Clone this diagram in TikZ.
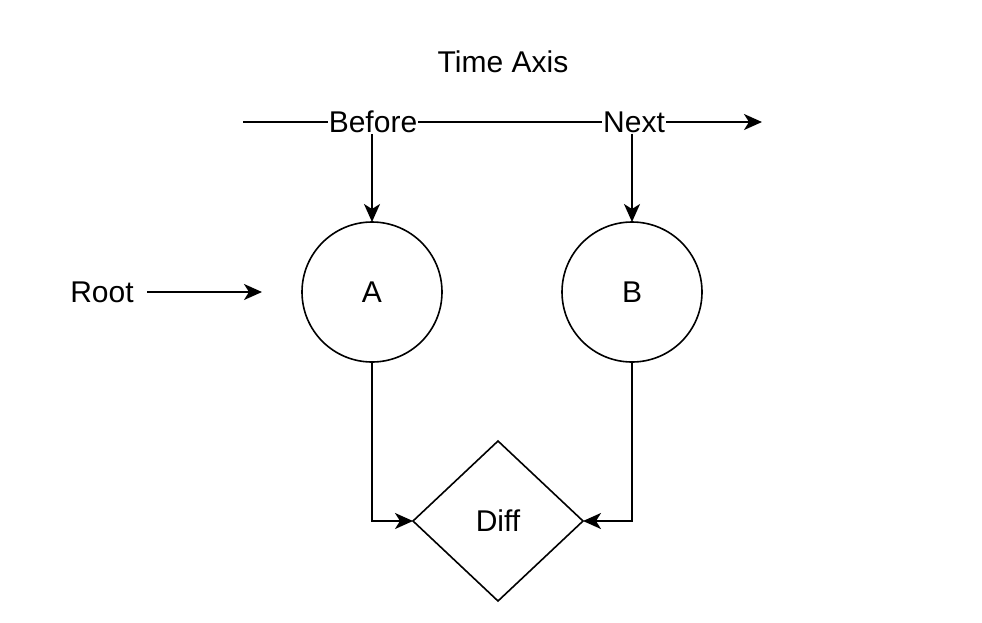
\documentclass[tikz,border=0pt]{standalone}
\usepackage{fontspec}
\setmainfont{Liberation Sans}
\usetikzlibrary{arrows.meta,shapes.geometric}
\tikzset{
  every node/.style={font=\fontsize{30}{36}\selectfont},
  conn/.style={line width=2pt},
  arr/.style={conn,-{Stealth[length=18pt,width=16pt,inset=5pt]}}
}
\begin{document}
\begin{tikzpicture}[x=1pt,y=-1pt]
      \useasboundingbox (0,0) rectangle (982,622);
      \node (title) at (503,62) {Time Axis};
      \coordinate (axstart) at (243,122);
      \coordinate (axend) at (762,122);
      \node (before) at (373,122) [inner sep=1pt] {Before};
      \node (next) at (634,122) [inner sep=1pt] {Next};
      \draw [conn](axstart)--(before);
      \draw [conn](before)--(next);
      \draw [arr](next)--(axend);
      \node (root) at (102,292) {Root};
      \coordinate (rootend) at (262,292);
      \draw [arr](root.east)++(10,0)--(rootend);
      \node (a) at (372,292) [circle,draw,line width=1.6pt,minimum size=140pt,inner sep=0pt,outer sep=0pt] {A};
      \node (b) at (632,292) [circle,draw,line width=1.6pt,minimum size=140pt,inner sep=0pt,outer sep=0pt] {B};
      \draw [arr](before.south -| a.north)--(a.north);
      \draw [arr](next.south -| b.north)--(b.north);
      \node (diff) at (498,521) [diamond,draw,line width=1.6pt,minimum width=170pt,minimum height=160pt,inner sep=0pt,outer sep=0pt] {Diff};
      \draw [arr](a.south)|-(diff.west);
      \draw [arr](b.south)|-(diff.east);
    \end{tikzpicture}
\end{document}
